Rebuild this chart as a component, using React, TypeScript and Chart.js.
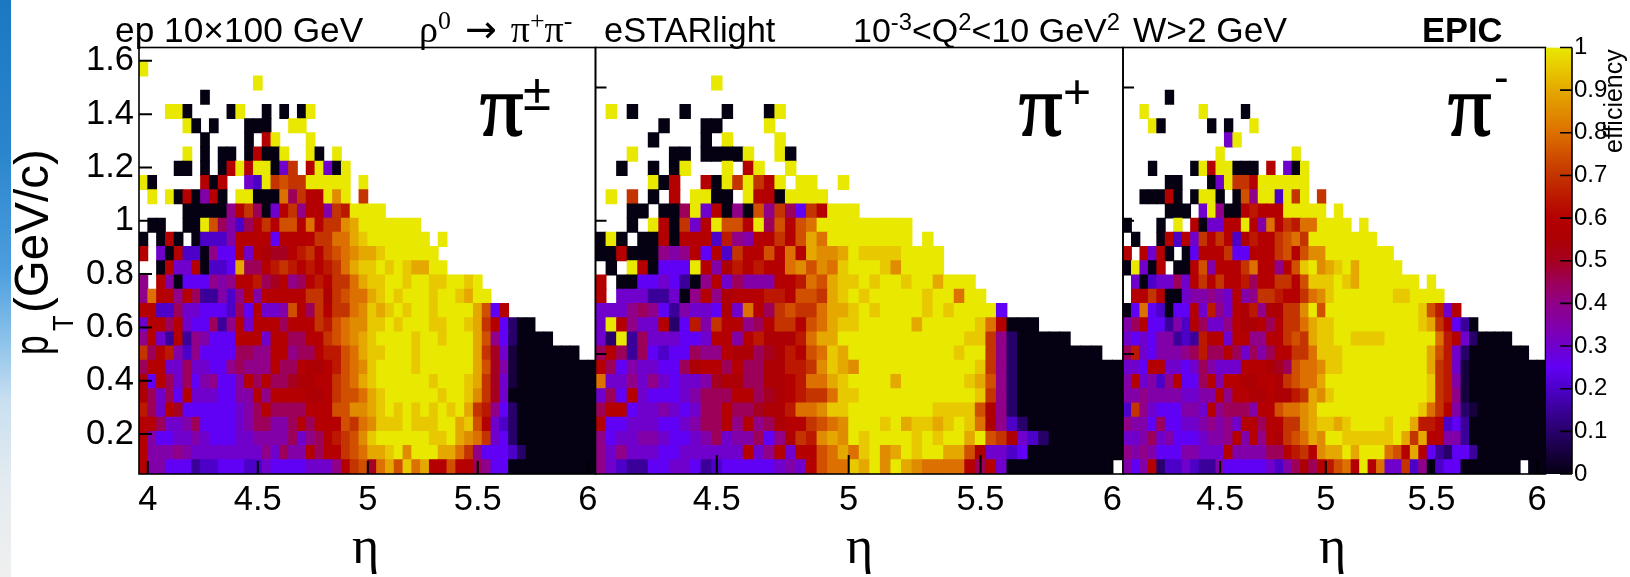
import React, { useEffect, useRef } from "react";
import { Chart, registerables } from "chart.js";

Chart.register(...registerables);

// Efficiency per cell, one character per cell: "." = empty bin,
// a..u = 0.0, 0.05, 0.10 ... 1.0. First string is the top row (pT 1.60-1.65).
const LEVELS = "abcdefghijklmnopqrstu";

const PI_ALL_ROWS = [
  "",
  "u",
  ".............u",
  ".......a",
  "...uua....au..a.a.au",
  ".....ua.a...aaa..uu",
  ".......a....a.mu...u",
  ".....u.a.aa.amaau..ua.u",
  "....aa.a.amumuuago.mugau",
  "ua.....mam..geuopoouuuuu.u",
  ".u.uamahma.uuaaaqjommuru.o",
  ".....aaaaaimojagmoimmhonuuuu",
  ".aa..aaupjhejmomppmqmoorsuuuuuuu",
  "a.ama.aeeehmmmmfmmmmooqqstuuuuuuu.u",
  "m.gameeaiffmgmlkkmnomopqrsstuuuuuu",
  "..amggmaeefsjjmnonmnmnoqsttututssuu",
  "i.mhafffihimmnjkmijmnmooqsttuutuuttuutu",
  "iqmmimjddheimhmmmmmoolopqqstutuuutuutsuu",
  "mmeejggfffejfmgghpmjomooqrtstutuutuuuuspfm",
  "gmmjmgffjdimgmmmjmmmonpqrrttutuuuttuutsomfcaa",
  "imgdmdihfffmmmgmmjjmmopqrstuuuutuutuuuspifcaaaa",
  "ojmnheiffffjjiimmijjmnnpqsttuuutuuuuuusokgbaaaaaaa",
  "jmmggjggffijiiimjjmllmnpqrtuuuutuuuuuuspkhbaaaaaaaaa",
  "lfmjgjfhiffhmjmjjkllmmopqstuuuuuutuuutsokgbaaaaaaaaa",
  "ljgjfmgggffhhmimmmmllmoppqstuuuuuutuutrokgaaaaaaaaaa",
  "njgmkffffffghjmjjjjmmmpprrstututututusonifcaaaaaaaaa",
  "mmjgghjffffghjjhhjmjmmmpoqrtttutttuustpmgecaaaaaaaaa",
  "mhffgghgfffgghhhhjgijmnoprtuuuuuuttusrqogfcaaaaaaaaa",
  "mhhhihggggggggigjhhmjmmopqssturuuussqoifffecaaaaaaaa",
  "mhhfffdeefffeegffffgggimopkqsptqsmmpmmjiffaaaaaaaaaa",
];

const PI_PLUS_ROWS = [
  "",
  "",
  "...........u",
  "",
  ".u.a....a...a...au",
  "......a...aa....u",
  ".....a....a.u....u",
  "...u...aa.aaaau..ua",
  "..a..a.au...u.mu..u",
  ".....uam..mauouomu.uu..u",
  ".u.o.a.m.uuaa.ummauuuu",
  "...aa.aajugmaiapiojfomuuu",
  "...a.umaogmuppmujpmpquuuuuuuuu",
  "aua.aamammmenihmmompsquuuuuuuu.u",
  "aamaaaihimfmeommpmqmsrrsuttttuuuu",
  ".a.umafffumhlnmnmmqrprqtuuutruuuu",
  "m.aaffgfdaimgjhhhmmnqpsttutuutuusuuu",
  "m.gggddgaimilmmmnnmppostutuuuuutuuquu",
  "gggijifdhggflgqmjopooqsstutuuuututuuuuf",
  "gumiggmcfnhommijmoompqsttuuuuusuuuuutqmaaa",
  "gcudjgggffgmmhmnlllnqssuuuuuuuuuuuuttoicaaaaa",
  "jmjdjfeffjiimlljklnmpqtsuuuuuuuuuutuuoicaaaaaaaa",
  "mjfhggffjlmmjmjjllnnortsruuuuuuuuuuutoicaaaaaaaaaa",
  "qggigigfgghklljjllmnqqstuuuusuuuuuutspicaaaaaaaaaa",
  "gjfmgfffghjjjmmjklmnooqttuuuuuuuuuuutoicaaaaaaaaaa",
  "jmmfgghgfgjjmjjkllnqqrttuuuuuuuuttttplicaaaaaaaaaa",
  "mffgggffghjjmimijlmmopqruuutusttstutqliecaaaaaaaaa",
  "ifgghhgffghjghhjfilonrsrutuuuututuusupolgecaaaaaaaaa",
  "igigggffggggggmgimgmmpqsqtursutuussplggefaaaaaaaaa",
  "igeddffggfdefffffghgmpqqtsurusrqqqqmjmgaaaaaaaaaa",
];

const PI_MINUS_ROWS = [
  "",
  "",
  "",
  ".....a",
  "..u......u....a",
  "...ua.....a.a..u",
  "............gu",
  "...........u........u",
  "...a....aumuuaaa.m.gau",
  ".....aa...aguoomuuuuuu",
  "..aaama.auua.apiuueuou.o",
  ".....aaa.guiaamnmmmuuuuu.u",
  "a...a.u.maggmmumhqmonqquuuu.u",
  ".a..amemgomomelnmmopqouuuuuuuu",
  "m.mgma.afmmmoffmmmopmprruuuuuuuu",
  "augam.aamphmmmoqmmimpturstusuuuuu",
  ".gaeggjgmomommnjmmoomptttutsuuuuuuu.u",
  ".mmomaaghhihgmhioonmmoqrtuuuuuuuttuuuu",
  "afqfeaffmgnigmlnilloorupuuuuuuuuuuutpngm",
  "hjmffdhemjggimllmjmooqsttuuuuuuuuuutsomfda",
  "gfgfhhdednmmgmmiimmoposttuuttttuuuuuuqnmgcaaaa",
  "jngfhhhijnjjmjgjhjmmooqtttuuuuuuuuuuspngcaaaaaaa",
  "ggfmmggfgjhgggmmmlkjpqqrttuuuuuuuuuusongbaaaaaaaaa",
  "hmgheimffjmhmmllmmlopqqsuuuuuuuuuuuutonhbaaaaaaaaa",
  "hhihhhhgghhmimmllmllnosrtuuuuuuuuuuutonibaaaaaaaaa",
  "eoigfffhhgmijjjhmmpqqrsuuuuuuuuuuuutqomhcbaaaaaaaa",
  "ihhfjffgghihigmmjmmoorsttstuuuutuusnnmefdaaaaaaaaa",
  "gghjghfffghhimhmimlopqsruuttttttusosmmhhdaaaaaaaaa",
  "ihihfffhhgggmhhhhjjmnomrssusuuuqpmsmfdcffdaaaaaaaa",
  "hfhmceegeddhfffffgehjljmnpqmumqggoeiaeffaaaaaaa.aa",
];

const COLOR_STOPS: [number, string][] = [
  [0.0, "#050012"],
  [0.1, "#28006a"],
  [0.2, "#4c00c8"],
  [0.25, "#6000f4"],
  [0.3, "#7000cc"],
  [0.35, "#8200a8"],
  [0.4, "#900088"],
  [0.45, "#9c0058"],
  [0.5, "#a60020"],
  [0.55, "#ac0004"],
  [0.6, "#b40000"],
  [0.65, "#bc1800"],
  [0.7, "#c43400"],
  [0.75, "#d05000"],
  [0.8, "#dc7000"],
  [0.85, "#e08c00"],
  [0.9, "#e4a800"],
  [0.95, "#e8c800"],
  [1.0, "#e8e800"],
];

const PT_TICKS_FIRST = [0.2, 0.4, 0.6, 0.8, 1.0, 1.2, 1.4, 1.6];
const PT_TICKS_OTHER = [0.5, 1.0, 1.5];
const ETA_TICKS = [4, 4.5, 5, 5.5, 6];
const BAR_TICKS = [0, 0.1, 0.2, 0.3, 0.4, 0.5, 0.6, 0.7, 0.8, 0.9, 1];

const ETA_BIN = 0.04;
const PT_TOP = 1.65;
const PT_BOTTOM = 0.05;
const PT_BIN = (PT_TOP - PT_BOTTOM) / 30;

const SANS = '"Liberation Sans", Arimo, Helvetica, Arial, sans-serif';
const SERIF = '"Liberation Serif", "DejaVu Serif", serif';
const TICK_FONT = 34.5;

function hex(c: string) {
  return [1, 3, 5].map((i) => parseInt(c.slice(i, i + 2), 16));
}
function colorOf(v: number) {
  for (let i = 1; i < COLOR_STOPS.length; i++) {
    const [v1, c1] = COLOR_STOPS[i];
    if (v <= v1 + 1e-9) {
      const [v0, c0] = COLOR_STOPS[i - 1];
      const t = (v - v0) / (v1 - v0);
      const a = hex(c0);
      const b = hex(c1);
      return `rgb(${a.map((x, k) => Math.round(x + (b[k] - x) * t)).join(",")})`;
    }
  }
  return COLOR_STOPS[COLOR_STOPS.length - 1][1];
}

function cellsOf(rows: string[], etaStart: number) {
  const data: { x: number; y: [number, number] }[] = [];
  const colors: string[] = [];
  rows.forEach((row, k) => {
    const hi = PT_TOP - k * PT_BIN;
    for (let i = 0; i < row.length; i++) {
      const level = LEVELS.indexOf(row[i]);
      if (level < 0) continue;
      data.push({ x: etaStart + ETA_BIN * (i + 0.5), y: [hi - PT_BIN, hi] });
      colors.push(colorOf(level * 0.05));
    }
  });
  return { data, colors };
}

const framePlugin = (xLen: number, yLen: number) => ({
  id: "rootFrame",
  afterDraw(chart: any) {
    const { ctx, chartArea: a, scales } = chart;
    ctx.save();
    ctx.strokeStyle = "#000";
    ctx.lineWidth = 2;
    ctx.beginPath();
    scales.y.ticks.forEach((_: any, i: number) => {
      const p = scales.y.getPixelForTick(i);
      ctx.moveTo(a.left, p);
      ctx.lineTo(a.left + yLen, p);
    });
    scales.x.ticks.forEach((_: any, i: number) => {
      const p = scales.x.getPixelForTick(i);
      ctx.moveTo(p, a.bottom);
      ctx.lineTo(p, a.bottom - xLen);
    });
    ctx.stroke();
    ctx.lineWidth = 1.6;
    ctx.strokeRect(a.left, a.top, a.right - a.left, a.bottom - a.top);
    ctx.restore();
  },
});

const PAGE_W = 1630;
const PAGE_H = 577;
const TOP = 47.5;
const BOTTOM = 474;

type PanelSpec = {
  rows: string[];
  left: number;
  right: number;
  etaMin: number;
  etaMax: number;
  binStart: number;
  ptTicks: number[];
  showPt: boolean;
  xLen: number;
  yLen: number;
};

const PANELS: PanelSpec[] = [
  { rows: PI_ALL_ROWS, left: 139, right: 595.5, etaMin: 3.96, etaMax: 6.035, binStart: 3.96, ptTicks: PT_TICKS_FIRST, showPt: true, xLen: 13, yLen: 13 },
  { rows: PI_PLUS_ROWS, left: 595.5, right: 1123, etaMin: 4.04, etaMax: 6.04, binStart: 4.04, ptTicks: PT_TICKS_OTHER, showPt: false, xLen: 19, yLen: 11 },
  { rows: PI_MINUS_ROWS, left: 1123, right: 1545.5, etaMin: 4.04, etaMax: 6.04, binStart: 4.04, ptTicks: PT_TICKS_OTHER, showPt: false, xLen: 13, yLen: 11 },
];

function panelConfig(p: PanelSpec): any {
  const { data, colors } = cellsOf(p.rows, p.binStart);
  const yWidth = p.showPt ? 70 : 0;
  const xHeight = 50;
  return {
    type: "bar",
    data: {
      datasets: [
        {
          data,
          backgroundColor: colors,
          borderWidth: 0,
          inflateAmount: 0.45,
          barPercentage: 1,
          categoryPercentage: 1,
        },
      ],
    },
    options: {
      animation: false,
      responsive: false,
      events: [],
      layout: {
        padding: {
          left: p.left - yWidth,
          right: PAGE_W - p.right,
          top: TOP,
          bottom: PAGE_H - BOTTOM - xHeight,
        },
      },
      plugins: { legend: { display: false }, tooltip: { enabled: false } },
      scales: {
        x: {
          type: "linear",
          offset: false,
          min: p.etaMin,
          max: p.etaMax,
          grid: { display: false, offset: false, drawTicks: false, tickLength: 0 },
          border: { display: false },
          afterBuildTicks(s: any) {
            s.ticks = ETA_TICKS.filter((v) => v >= p.etaMin && v <= p.etaMax).map((value) => ({ value }));
          },
          afterFit(s: any) {
            s.height = xHeight;
          },
          ticks: {
            autoSkip: false,
            maxRotation: 0,
            padding: 6,
            color: "#000",
            font: { family: SANS, size: TICK_FONT },
            callback: (v: number) => String(v),
          },
        },
        y: {
          type: "linear",
          min: PT_BOTTOM,
          max: PT_TOP,
          grid: { display: false, drawTicks: false, tickLength: 0 },
          border: { display: false },
          afterBuildTicks(s: any) {
            s.ticks = p.ptTicks.map((value) => ({ value }));
          },
          afterFit(s: any) {
            s.width = yWidth;
          },
          ticks: {
            display: p.showPt,
            autoSkip: false,
            padding: 5,
            color: "#000",
            font: { family: SANS, size: TICK_FONT },
            callback: (v: number) => String(v),
          },
        },
      },
    },
    plugins: [framePlugin(p.xLen, p.yLen)],
  };
}

function colorbarConfig(): any {
  return {
    type: "bar",
    data: {
      labels: ["efficiency"],
      datasets: [
        {
          data: [[0, 1]],
          backgroundColor(c: any) {
            const a = c.chart.chartArea;
            if (!a) return "#000";
            const g = c.chart.ctx.createLinearGradient(0, a.bottom, 0, a.top);
            COLOR_STOPS.forEach(([v, col]) => g.addColorStop(v, col));
            return g;
          },
          borderWidth: 0,
          barPercentage: 1,
          categoryPercentage: 1,
        },
      ],
    },
    options: {
      animation: false,
      responsive: false,
      events: [],
      layout: { padding: { left: 1546, right: PAGE_W - 1572 - 58, top: TOP, bottom: PAGE_H - BOTTOM } },
      plugins: { legend: { display: false }, tooltip: { enabled: false } },
      scales: {
        x: { display: false },
        y: {
          position: "right",
          min: 0,
          max: 1,
          grid: { display: false, drawTicks: false, tickLength: 0 },
          border: { display: false },
          afterBuildTicks(s: any) {
            s.ticks = BAR_TICKS.map((value) => ({ value }));
          },
          afterFit(s: any) {
            s.width = 58;
          },
          ticks: {
            autoSkip: false,
            padding: 2,
            color: "#000",
            font: { family: SANS, size: 24 },
            callback: (v: number) => String(v),
          },
        },
      },
    },
    plugins: [
      {
        id: "barFrame",
        afterDraw(chart: any) {
          const { ctx, chartArea: a, scales } = chart;
          ctx.save();
          ctx.strokeStyle = "#000";
          ctx.lineWidth = 1.6;
          ctx.beginPath();
          ctx.moveTo(a.right, a.top);
          ctx.lineTo(a.right, a.bottom);
          scales.y.ticks.forEach((_: any, i: number) => {
            const p = scales.y.getPixelForTick(i);
            ctx.moveTo(a.right, p);
            ctx.lineTo(a.right - 12, p);
          });
          ctx.stroke();
          ctx.restore();
        },
      },
    ],
  };
}

function Label(props: { x: number; base: number; size: number; serif?: boolean; bold?: boolean; heavy?: boolean; sx?: number; children: any }) {
  const { x, base, size, serif, bold, heavy, sx, children } = props;
  return (
    <span
      style={{
        position: "absolute",
        left: x,
        top: base - 0.84 * size,
        fontFamily: serif ? SERIF : SANS,
        fontSize: size,
        fontWeight: bold ? 700 : 400,
        lineHeight: 1,
        whiteSpace: "nowrap",
        color: "#000",
        WebkitTextStroke: heavy ? "1.6px #000" : undefined,
        transform: sx ? `scaleX(${sx})` : undefined,
        transformOrigin: "0 0",
      }}
    >
      {children}
    </span>
  );
}

const sup = (t: string, size = 0.68, y = -0.5): any => (
  <span style={{ fontSize: `${size}em`, position: "relative", top: `${y}em` }}>{t}</span>
);

function ChartCanvas({ make }: { make: () => any }) {
  const ref = useRef<HTMLCanvasElement>(null);
  useEffect(() => {
    const chart = new Chart(ref.current as HTMLCanvasElement, make());
    return () => chart.destroy();
  }, []);
  return (
    <canvas
      ref={ref}
      width={PAGE_W}
      height={PAGE_H}
      style={{ position: "absolute", left: 0, top: 0, width: PAGE_W, height: PAGE_H }}
    />
  );
}

export default function App() {
  return (
    <div
      style={{
        position: "fixed",
        left: 0,
        top: 0,
        width: PAGE_W,
        height: PAGE_H,
        background: "#fff",
        overflow: "hidden",
      }}
    >
      <div
        style={{
          position: "absolute",
          left: 0,
          top: 0,
          width: 11,
          height: PAGE_H,
          background:
            "linear-gradient(180deg,#1b78c2 0,#2a85cc 150px,#4c9ede 270px,#8cc2ea 340px,#c8dff0 400px,#e4ebf0 480px,#efefef 577px)",
        }}
      />
      {PANELS.map((p, i) => (
        <ChartCanvas key={i} make={() => panelConfig(p)} />
      ))}
      <ChartCanvas make={colorbarConfig} />

      <Label x={115} base={41.5} size={35.3}>ep 10×100 GeV</Label>
      <Label x={419} base={41.5} size={38} serif>
        ρ{sup("0")}
        <span style={{ margin: "0 14px", fontFamily: '"DejaVu Sans", sans-serif' }}>→</span>π{sup("+")}π{sup("-")}
      </Label>
      <Label x={604} base={41.5} size={34.4}>eSTARlight</Label>
      <Label x={853} base={41.5} size={34}>
        10{sup("-3", 0.7)}&lt;Q{sup("2", 0.7)}&lt;10 GeV{sup("2", 0.7)}
      </Label>
      <Label x={1133} base={41.5} size={35.3}>W&gt;2 GeV</Label>
      <Label x={1422} base={41.5} size={34.5} bold>EPIC</Label>

      <Label x={480} base={135} size={86} serif heavy>π</Label>
      <Label x={523} base={110} size={51}>±</Label>
      <Label x={1019} base={135} size={86} serif heavy>π</Label>
      <Label x={1063} base={108} size={48}>+</Label>
      <Label x={1448} base={135} size={86} serif heavy>π</Label>
      <Label x={1494} base={92} size={44}>-</Label>

      <Label x={352} base={563.5} size={52} serif>η</Label>
      <Label x={846} base={563.5} size={52} serif>η</Label>
      <Label x={1319} base={563.5} size={52} serif>η</Label>

      <div style={{ position: "absolute", left: 48, top: 354, transform: "rotate(-90deg)", transformOrigin: "0 0" }}>
        <Label x={-1} base={0} size={49} sx={0.72}>p</Label>
        <Label x={23} base={25} size={30} sx={0.85}>T</Label>
        <Label x={41} base={0} size={49} sx={0.97}>(GeV/c)</Label>
      </div>
      <div style={{ position: "absolute", left: 1622, top: 153, transform: "rotate(-90deg)", transformOrigin: "0 0" }}>
        <Label x={0} base={0} size={25}>efficiency</Label>
      </div>
    </div>
  );
}
